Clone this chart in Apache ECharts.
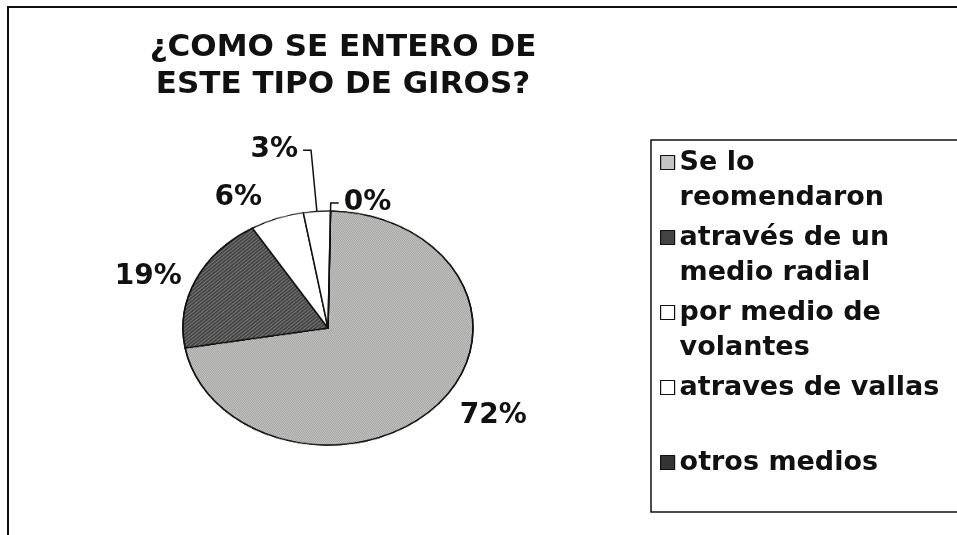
<!DOCTYPE html>
<html>
<head>
<meta charset="utf-8">
<script src="https://cdn.jsdelivr.net/npm/echarts@6/dist/echarts.min.js"></script>
<style>
html, body { margin: 0; padding: 0; background: #fff; }
#wrap { position: relative; width: 957px; height: 535px; overflow: hidden; }
#pie, #main { position: absolute; left: 0; top: 0; width: 957px; height: 535px; }
/* la torta de Excel es una elipse: se aplasta la capa del pastel */
#pie { transform-origin: 328px 328px; transform: scaleY(0.807); }
</style>
</head>
<body>
<div id="wrap"><div id="pie"></div><div id="main"></div></div>
<script>
// datos
var categorias = ['Se lo reomendaron', 'através de un medio radial', 'por medio de volantes', 'atraves de vallas', 'otros medios'];
var etiquetasLeyenda = ['Se lo\nreomendaron', 'através de un\nmedio radial', 'por medio de\nvolantes', 'atraves de vallas\n ', 'otros medios\n '];
var porcentajes = [72, 19, 6, 3, 0];

// estilo
var colores = ['#c4c5c2', '#444444', '#ffffff', '#ffffff', '#343434'];
var tramas = [
	{ symbol: 'rect', symbolSize: 1, dashArrayX: [[1, 1], [0, 1, 1, 0]], dashArrayY: [1, 0], color: 'rgba(0,0,0,0.16)' },
	{ symbol: 'rect', symbolSize: 1, dashArrayX: [[1, 0]], dashArrayY: [1, 2], rotation: -Math.PI / 4, color: 'rgba(255,255,255,0.3)' },
	null, null, null
];
var largoLinea = [22, 10, 28, 76, 10];
var largoLinea2 = [0, 0, 0, 8, 8];
var verLinea = [false, false, false, true, true];

var CX = 328, CY = 328, R = 145, K = 0.807;
var fuente = 'DejaVu Sans';

function datosTorta(transparente) {
	return categorias.map(function(n, i) {
		var estilo = { color: transparente ? 'rgba(0,0,0,0)' : colores[i] };
		if (!transparente && tramas[i]) {
			estilo.decal = tramas[i];
		}
		return {
			name: n,
			value: porcentajes[i],
			itemStyle: estilo,
			labelLine: { show: verLinea[i], length: largoLinea[i], length2: largoLinea2[i] }
		};
	});
}

// capa inferior: solo el pastel
var pie = echarts.init(document.getElementById('pie'));
pie.setOption({
	animation: false,
	series: [{
		type: 'pie',
		center: [CX, CY],
		radius: R,
		startAngle: 89,
		silent: true,
		label: { show: false },
		labelLine: { show: false },
		itemStyle: { borderColor: '#111', borderWidth: 1.5 },
		data: datosTorta(false)
	}]
});

// capa superior: titulo, leyenda, etiquetas
var main = echarts.init(document.getElementById('main'));
main.setOption({
	animation: false,
	backgroundColor: 'transparent',
	title: {
		text: '¿COMO SE ENTERO DE\nESTE TIPO DE GIROS?',
		left: 338,
		top: 24,
		textAlign: 'center',
		textStyle: { fontFamily: fuente, fontWeight: 'bold', fontSize: 31, lineHeight: 37, color: '#111' }
	},
	legend: {
		orient: 'vertical',
		left: 660,
		top: 110,
		padding: 0,
		itemWidth: 14,
		itemHeight: 14,
		itemGap: -30,
		icon: 'rect',
		data: categorias.map(function(n, i) {
			return { name: n, itemStyle: { color: colores[i], borderColor: '#111', borderWidth: 1.2 } };
		}),
		// linea vacia arriba para que el cuadro quede en la primera linea
		formatter: function(name) {
			return ' \n' + etiquetasLeyenda[categorias.indexOf(name)];
		},
		textStyle: { fontFamily: fuente, fontWeight: 'bold', fontSize: 27, lineHeight: 35, color: '#111' }
	},
	graphic: [
		{ type: 'rect', silent: true, shape: { x: 8, y: 7, width: 1000, height: 600 }, style: { fill: 'none', stroke: '#111', lineWidth: 2 } },
		{ type: 'rect', silent: true, shape: { x: 651, y: 140, width: 400, height: 372 }, style: { fill: 'none', stroke: '#111', lineWidth: 1.5 } }
	],
	series: [{
		type: 'pie',
		center: [CX, CY],
		radius: R,
		startAngle: 89,
		avoidLabelOverlap: false,
		silent: true,
		label: {
			position: 'outside',
			formatter: '{c}%',
			fontFamily: fuente,
			fontWeight: 'bold',
			fontSize: 28,
			color: '#111'
		},
		labelLine: { lineStyle: { color: '#111', width: 1.5 } },
		// se lleva cada etiqueta hacia la elipse
		labelLayout: function(p) {
			var r = p.labelRect;
			var out = { y: CY + (r.y + r.height / 2 - CY) * K, verticalAlign: 'middle' };
			if (p.labelLinePoints) {
				out.labelLinePoints = p.labelLinePoints.map(function(pt) {
					return [pt[0], CY + (pt[1] - CY) * K];
				});
			}
			return out;
		},
		data: datosTorta(true)
	}]
});
</script>
</body>
</html>
